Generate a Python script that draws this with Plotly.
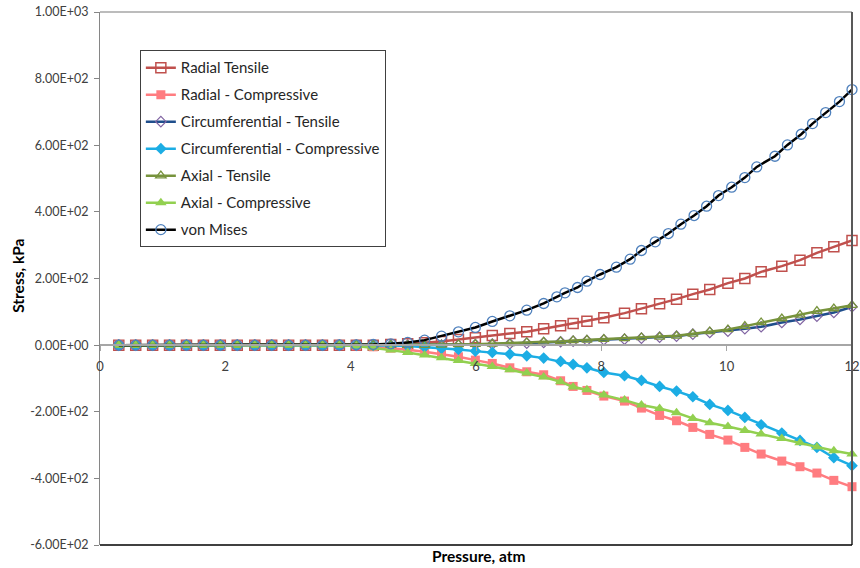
import plotly.graph_objects as go

# ---------------- data ----------------
pressure = [0.30, 0.57, 0.84, 1.11, 1.38, 1.65, 1.92, 2.19, 2.47, 2.74, 3.01, 3.28, 3.55, 3.82,
            4.09, 4.36, 4.64, 4.91, 5.18, 5.45, 5.72, 5.99, 6.26, 6.54, 6.81, 7.08, 7.35, 7.55,
            7.77, 8.04, 8.37, 8.64, 8.93, 9.20, 9.46, 9.73, 10.02, 10.29, 10.55, 10.88, 11.17,
            11.44, 11.71, 12.00]

pressure_vm = [0.30, 0.57, 0.84, 1.11, 1.38, 1.65, 1.92, 2.19, 2.47, 2.74, 3.01, 3.28, 3.55, 3.82,
               4.09, 4.36, 4.64, 4.91, 5.18, 5.45, 5.72, 5.99, 6.26, 6.54, 6.81, 7.08, 7.29, 7.42,
               7.62, 7.77, 7.98, 8.24, 8.46, 8.64, 8.86, 9.07, 9.27, 9.48, 9.68, 9.87, 10.08,
               10.29, 10.48, 10.77, 10.97, 11.19, 11.37, 11.58, 11.80, 12.00]

radial_tensile = [0, 0, 0, 0, 0, 0, 0, 0, 0, 0, 0, 0, 0, 0, 0, 0, 2, 4, 7, 11, 17, 22, 29, 35, 40,
                  49, 58, 65, 72, 82, 96, 109, 124, 138, 153, 167, 186, 200, 220, 237, 255, 277,
                  295, 314]

radial_comp = [0, 0, 0, 0, 0, 0, 0, 0, 0, 0, 0, 0, 0, 0, -2, -5, -9, -14, -20, -27, -35, -45, -55,
               -68, -80, -89, -107, -124, -136, -153, -168, -189, -211, -227, -247, -268, -285,
               -307, -327, -348, -365, -384, -406, -425]

circ_tensile = [0, 0, 0, 0, 0, 0, 0, 0, 0, 0, 0, 0, 0, 0, 0, 0, 0, 0, 0, 0, 0, 2, 3, 4, 6, 8, 10,
                12, 14, 16, 18, 21, 24, 27, 33, 38, 42, 49, 55, 68, 77, 87, 98, 115]

circ_comp = [0, 0, 0, 0, 0, 0, 0, 0, 0, 0, 0, 0, 0, 0, 0, 0, -1, -3, -6, -10, -13, -18, -22, -27,
             -32, -39, -49, -58, -68, -82, -92, -106, -124, -138, -155, -178, -196, -217, -239,
             -264, -286, -307, -338, -362]

axial_tensile = [0, 0, 0, 0, 0, 0, 0, 0, 0, 0, 0, 0, 0, 0, 0, 0, 0, 0, 0, 1, 2, 3, 4, 5, 8, 10, 11,
                 14, 16, 18, 20, 23, 25, 28, 34, 41, 47, 57, 68, 80, 91, 102, 110, 120]

axial_comp = [0, 0, 0, 0, 0, 0, 0, 0, 0, 0, 0, 0, 0, 0, -3, -8, -15, -22, -30, -38, -46, -55, -64,
              -74, -84, -96, -110, -126, -134, -150, -165, -180, -190, -203, -220, -233, -244,
              -256, -267, -280, -293, -306, -317, -327]

von_mises = [0, 0, 0, 0, 0, 0, 0, 0, 0, 0, 0, 0, 0, 0.5, 1, 2, 4, 8, 15, 27, 40, 53, 71, 88, 105,
             125, 145, 157, 173, 192, 212, 234, 258, 284, 310, 335, 363, 389, 417, 449, 474, 503,
             535, 567, 601, 633, 665, 698, 731, 767]

y_tick_vals = [-600, -400, -200, 0, 200, 400, 600, 800, 1000]
y_tick_text = ["-6.00E+02", "-4.00E+02", "-2.00E+02", "0.00E+00", "2.00E+02",
               "4.00E+02", "6.00E+02", "8.00E+02", "1.00E+03"]
x_tick_vals = [0, 2, 4, 6, 8, 10, 12]
x_tick_text = ["0", "2", "4", "6", "8", "10", "12"]

# ---------------- figure ----------------
FONT = "Lato, 'Open Sans', sans-serif"

fig = go.Figure()

series = [
    ("Radial Tensile", pressure, radial_tensile, "#C0504D",
     dict(symbol="square-open", size=10, color="#C0504D", line=dict(width=1.5, color="#C0504D"))),
    ("Radial - Compressive", pressure, radial_comp, "#FF7C80",
     dict(symbol="square", size=9, color="#FF7C80", line=dict(width=0))),
    ("Circumferential - Tensile", pressure, circ_tensile, "#1F4E8C",
     dict(symbol="diamond-open", size=8, color="#8064A2", line=dict(width=1.2, color="#8064A2"))),
    ("Circumferential - Compressive", pressure, circ_comp, "#1CADE4",
     dict(symbol="diamond", size=9, color="#1CADE4", line=dict(width=0))),
    ("Axial - Tensile", pressure, axial_tensile, "#77933C",
     dict(symbol="triangle-up-open", size=9, color="#77933C", line=dict(width=1.3, color="#77933C"))),
    ("Axial - Compressive", pressure, axial_comp, "#92D050",
     dict(symbol="triangle-up", size=10, color="#92D050", line=dict(width=0))),
    ("von Mises", pressure_vm, von_mises, "#000000",
     dict(symbol="circle-open", size=10, color="#4F81BD", line=dict(width=1.3, color="#4F81BD"))),
]

for i, (name, xs, ys, lc, mk) in enumerate(series):
    fig.add_trace(go.Scatter(
        x=xs, y=ys, name=name, mode="lines+markers",
        line=dict(color=lc, width=2.5),
        marker=mk,
        legendgroup=f"g{i}",
        cliponaxis=False,
    ))

fig.update_layout(
    width=860, height=568,
    margin=dict(l=100, r=8, t=12, b=23, autoexpand=False),
    paper_bgcolor="white", plot_bgcolor="white",
    font=dict(family=FONT, size=12, color="#404040"),
    showlegend=True,
    legend=dict(
        x=0.053, y=0.928, xanchor="left", yanchor="top",
        bgcolor="white", bordercolor="#404040", borderwidth=1,
        font=dict(family=FONT, size=15, color="#262626"),
        tracegroupgap=4.5,
        itemwidth=30,
    ),
    xaxis=dict(
        range=[0, 12], tickvals=x_tick_vals, ticktext=x_tick_text,
        anchor="free", position=0.375, automargin=False,
        showline=True, linecolor="#A6A6A6", linewidth=2,
        ticks="outside", ticklen=5, tickcolor="#A6A6A6",
        ticklabelstandoff=4,
        showgrid=False, zeroline=False,
        tickfont=dict(family=FONT, size=13, color="#404040"),
    ),
    yaxis=dict(
        range=[-600, 1000], tickvals=y_tick_vals, ticktext=y_tick_text,
        automargin=False,
        showline=True, linecolor="#868686", linewidth=1,
        ticks="outside", ticklen=5, tickcolor="#868686",
        ticklabelstandoff=3,
        showgrid=False, zeroline=False,
        tickfont=dict(family=FONT, size=12.5, color="#404040"),
    ),
    shapes=[
        dict(type="line", xref="paper", yref="paper", x0=0, x1=1, y0=1, y1=1,
             line=dict(color="#A6A6A6", width=1.5)),
        dict(type="line", xref="paper", yref="paper", x0=1, x1=1, y0=0, y1=1,
             line=dict(color="#595959", width=2)),
        dict(type="line", xref="paper", yref="paper", x0=0, x1=1, y0=0, y1=0,
             line=dict(color="#000000", width=1.5)),
    ],
    annotations=[
        dict(text="<b>Pressure, atm</b>", xref="paper", yref="paper",
             x=0.503, y=-0.021, xanchor="center", yanchor="middle", showarrow=False,
             font=dict(family=FONT, size=15.5, color="#000000")),
        dict(text="<b>Stress, kPa</b>", xref="paper", yref="paper",
             x=-0.109, y=0.505, xanchor="center", yanchor="middle", showarrow=False,
             textangle=-90, font=dict(family=FONT, size=15.5, color="#000000")),
    ],
)

fig.write_html("out.html", config={"displayModeBar": False},
               post_script="document.body.style.margin='0';")
